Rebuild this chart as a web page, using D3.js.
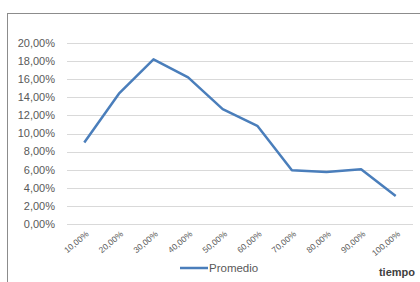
<!DOCTYPE html>
<html>
<head>
<meta charset="utf-8">
<script src="https://cdn.jsdelivr.net/npm/d3@7"></script>
<style>
  body { margin: 0; background: #fff; }
  svg { display: block; font-family: "Liberation Sans", Arial, sans-serif; }
</style>
</head>
<body>
<svg id="chart" width="420" height="282"></svg>
<script>
// categories (tiempo) and series values (Promedio), in %
var categories = ["10,00%", "20,00%", "30,00%", "40,00%", "50,00%", "60,00%", "70,00%", "80,00%", "90,00%", "100,00%"];
var promedio = [9.0, 14.4, 18.2, 16.2, 12.7, 10.85, 5.95, 5.75, 6.05, 3.1];
var yTicks = [0, 2, 4, 6, 8, 10, 12, 14, 16, 18, 20];

var svg = d3.select("#chart");

// chart frame (cut off at right and bottom)
svg.append("rect")
    .attr("x", 7.5)
    .attr("y", 13.5)
    .attr("width", 430)
    .attr("height", 300)
    .attr("fill", "#fff")
    .attr("stroke", "#8c8c8c")
    .attr("stroke-width", 1);

var margin = { left: 67, right: 7, top: 43, bottom: 58 };
var width = 420 - margin.left - margin.right,
    height = 282 - margin.top - margin.bottom;

var g = svg.append("g")
    .attr("transform", `translate(${margin.left},${margin.top})`);

var x = d3.scaleBand()
    .domain(categories)
    .range([0, width]);

var y = d3.scaleLinear()
    .domain([0, 20])
    .range([height, 0]);

// gridlines
g.append("g")
    .selectAll("line")
    .data(yTicks)
    .join("line")
    .attr("x1", 0)
    .attr("x2", width)
    .attr("y1", d => Math.round(y(d)) + 0.5)
    .attr("y2", d => Math.round(y(d)) + 0.5)
    .attr("stroke", "#d9d9d9")
    .attr("stroke-width", 1);

// y axis labels
var fmt = d => d.toFixed(2).replace(".", ",") + "%";
g.append("g")
    .selectAll("text")
    .data(yTicks)
    .join("text")
    .attr("x", -12)
    .attr("y", d => y(d))
    .attr("dy", "0.35em")
    .attr("text-anchor", "end")
    .attr("font-size", 11)
    .attr("fill", "#595959")
    .text(fmt);

// x axis labels rotated
g.append("g")
    .selectAll("text")
    .data(categories)
    .join("text")
    .attr("transform", d => `translate(${x(d) + x.bandwidth() / 2 + 5},${height + 11}) rotate(-40)`)
    .attr("text-anchor", "end")
    .attr("font-size", 8.5)
    .attr("fill", "#595959")
    .text(d => d);

// line
var line = d3.line()
    .x((d, i) => x(categories[i]) + x.bandwidth() / 2)
    .y(d => y(d));

g.append("path")
    .datum(promedio)
    .attr("fill", "none")
    .attr("stroke", "#4a7ebb")
    .attr("stroke-width", 2.5)
    .attr("stroke-linejoin", "round")
    .attr("d", line);

// legend
var legend = svg.append("g")
    .attr("transform", "translate(180,268)");

legend.append("line")
    .attr("x1", 0)
    .attr("x2", 28)
    .attr("y1", 0)
    .attr("y2", 0)
    .attr("stroke", "#4a7ebb")
    .attr("stroke-width", 2.5);

legend.append("text")
    .attr("x", 29)
    .attr("y", 4)
    .attr("font-size", 11.5)
    .attr("fill", "#595959")
    .text("Promedio");

// axis title
svg.append("text")
    .attr("x", 415)
    .attr("y", 276)
    .attr("text-anchor", "end")
    .attr("font-size", 11)
    .attr("font-weight", "bold")
    .attr("fill", "#404040")
    .text("tiempo");
</script>
</body>
</html>
